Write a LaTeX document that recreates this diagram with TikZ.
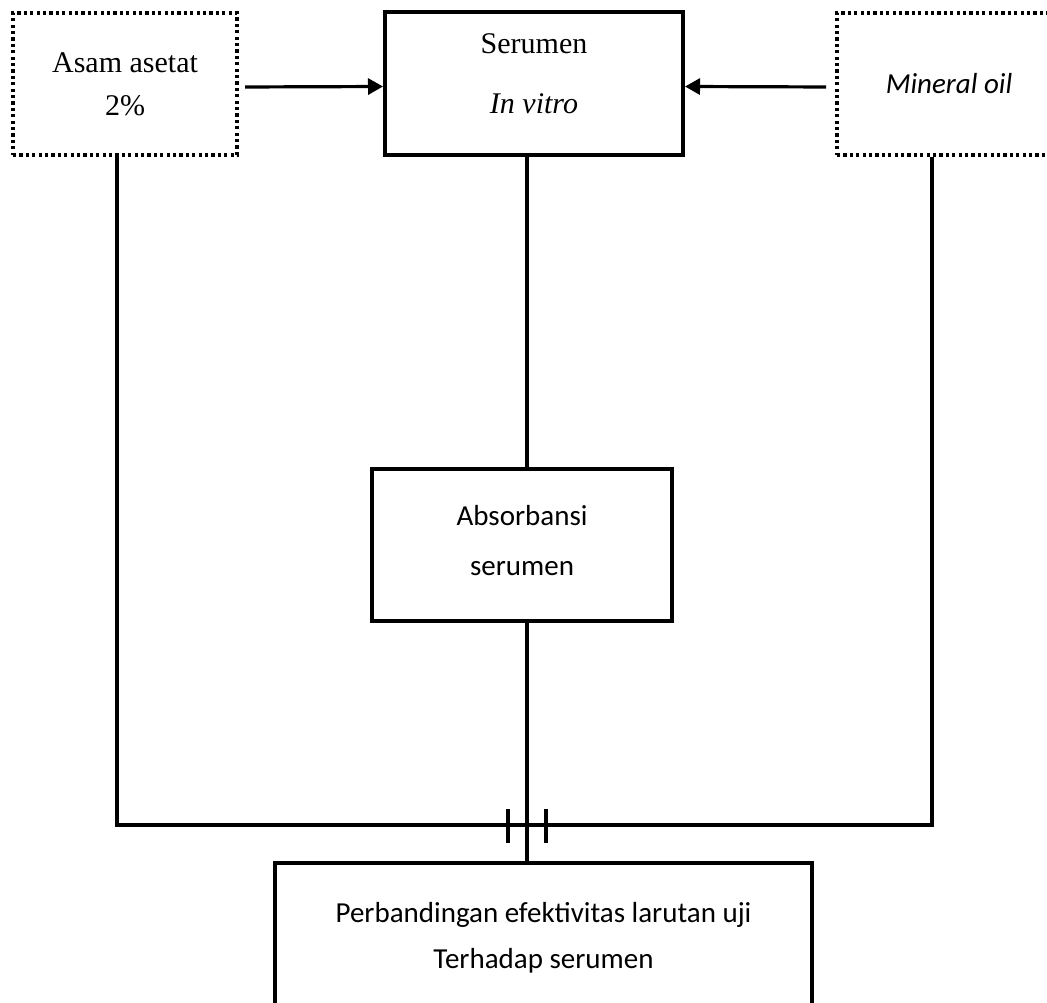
\documentclass[tikz,border=0pt]{standalone}
\usepackage{fontspec}
\setmainfont{Liberation Serif}
\newfontfamily\calibri{Carlito}
\usetikzlibrary{arrows.meta}

\begin{document}
\begin{tikzpicture}[x=0.5pt,y=-0.5pt,line width=1.6pt,
  main/.style = {draw, line width=2pt, align=center, inner sep=0pt},
  dotbox/.style = {main, dash pattern=on 1.6pt off 1.6pt},
  arr/.style = {-{Triangle[length=7.5pt,width=8pt]}}]
\useasboundingbox (0,0) rectangle (1047,1002);
\node[dotbox, minimum width=112pt, minimum height=71pt,
  font=\fontsize{15}{21.5}\selectfont] (asam) at (125,84) {Asam asetat\\2\%};
\node[main, minimum width=149pt, minimum height=71.5pt, text depth=10pt,
  font=\fontsize{15}{30}\selectfont] (serumen) at (534,83.5) {Serumen\\\textit{In vitro}};
\node[dotbox, minimum width=112pt, minimum height=71pt,
  font=\calibri\itshape\fontsize{14.5}{20}\selectfont] (mineral) at (949,84) {Mineral oil};
\node[main, minimum width=150pt, minimum height=76pt, text depth=5pt,
  font=\calibri\fontsize{14.5}{25}\selectfont] (absorb) at (522,545) {Absorbansi\\serumen};
\node[main, minimum width=268.5pt, minimum height=74.5pt,
  font=\calibri\fontsize{14.5}{23}\selectfont] (banding) at (543.5,937.5)
  {Perbandingan efektivitas larutan uji\\Terhadap serumen};
% titik bantu
\coordinate (mid) at (527,0);
\coordinate (kiri) at (117,825);
\coordinate (kanan) at (932,825);
\coordinate (t1) at (508,809);
\coordinate (t2) at (546,809);
\draw[arr, shorten <=3pt] ([yshift=-1.5pt]asam.east) to ([yshift=-1.5pt]serumen.west);
\draw[arr, shorten <=4.5pt] ([yshift=-1.5pt]mineral.west) to ([yshift=-1.5pt]serumen.east);
\draw (serumen.south -| mid) to (absorb.north -| mid);
\draw (absorb.south -| mid) to (banding.north -| mid);
\draw (asam.south -| kiri) to (kiri) to (kanan) to (mineral.south -| kanan);
\draw (t1) to ++(0,34);
\draw (t2) to ++(0,34);
\end{tikzpicture}
\end{document}
